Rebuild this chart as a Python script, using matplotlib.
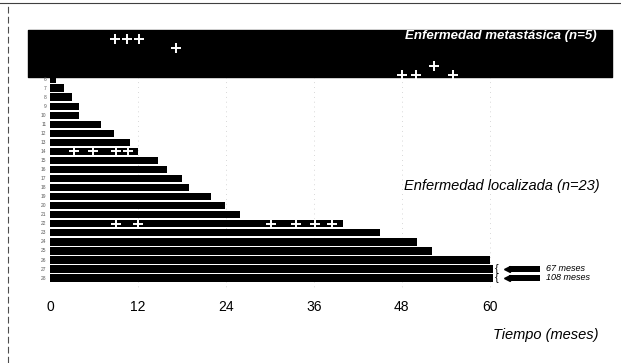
import matplotlib
matplotlib.use("Agg")
import matplotlib.pyplot as plt
from matplotlib.lines import Line2D

plt.rcParams['font.family'] = ['Liberation Sans', 'DejaVu Sans']

# localized disease: follow-up (months) per patient, top to bottom
patients = list(range(6, 29))
follow_up = [0.8, 1.9, 3.0, 3.9, 3.9, 6.9, 8.8, 10.9, 12.0, 14.8, 15.9, 18.0,
             18.9, 21.9, 23.9, 25.9, 40.0, 45.0, 50.1, 52.1, 60.0, 67, 108]
# white crosses drawn on the bars (row index -> months)
local_marks = {8: [3.3, 5.9, 9.0, 10.6],
               16: [9.0, 12.0, 30.1, 33.6, 36.1, 38.5]}
# metastatic disease block (n=5): marks per row
meta_marks = {0: [8.9, 10.5, 12.1], 1: [17.2], 3: [52.4], 4: [48.0, 49.9, 55.0]}
ticks = [0, 12, 24, 36, 48, 60]
axis_cap = 60.5      # longer bars get a break mark
cont_end = 66.8

fig = plt.figure(figsize=(6.21, 3.63), dpi=100)
ax = fig.add_axes([0, 0, 1, 1])
ax.set_xlim(-6.82, 77.9)
ax.set_ylim(31.38, -8.73)
ax.axis('off')

# faint grid
for t in ticks[1:]:
    ax.plot([t, t], [-0.2, 23], color='0.7', lw=0.5, ls=(0, (1, 6)), zorder=0)

# metastatic block
ax.fill_between([-3.0, 76.7], -5.41, -0.22, color='black', zorder=1)
for r, xs in meta_marks.items():
    ax.plot(xs, [-4.45 + r] * len(xs), ls='none', marker='+', color='white',
            ms=7, mew=1.4, zorder=3)
ax.text(74.6, -4.8, 'Enfermedad metastásica (n=5)', color='white',
        fontsize=9.5, fontweight='bold', fontstyle='italic', ha='right', va='center')

# localized bars
for i, (p, v) in enumerate(zip(patients, follow_up)):
    ax.text(-0.5, i, str(p), fontsize=3.5, color='0.35', ha='right', va='center')
    if v > axis_cap:
        ax.barh(i, axis_cap, left=0, height=0.8, color='black', zorder=2)
        ax.text(61.0, i, '{', fontsize=8, ha='center', va='center', zorder=3)
        ax.barh(i, cont_end - 62.6, left=62.6, height=0.6, color='black', zorder=2)
        ax.plot(62.4, i, marker='<', color='black', ms=5, zorder=3)
        ax.text(67.6, i - 0.1, f'{v} meses', fontsize=6.5, fontstyle='italic',
                ha='left', va='center')
    else:
        ax.barh(i, v, left=0, height=0.8, color='black', zorder=2)
for r, xs in local_marks.items():
    ax.plot(xs, [r] * len(xs), ls='none', marker='+', color='white',
            ms=7, mew=1.4, zorder=3)

ax.text(75.0, 11.8, 'Enfermedad localizada (n=23)', fontsize=10.5,
        fontstyle='italic', ha='right', va='center')

for t in ticks:
    ax.text(t, 25.2, str(t), fontsize=10, ha='center', va='center')
ax.text(74.8, 28.3, 'Tiempo (meses)', fontsize=10.5, fontstyle='italic',
        ha='right', va='center')

# scan frame remnants
fig.add_artist(Line2D([0.0, 1.0], [0.992, 0.992], color='0.25', lw=0.8))
fig.add_artist(Line2D([0.013, 0.013], [0.0, 0.992], color='0.3', lw=0.8,
                      ls=(0, (6, 3))))

fig.savefig('out.png', dpi=100)
